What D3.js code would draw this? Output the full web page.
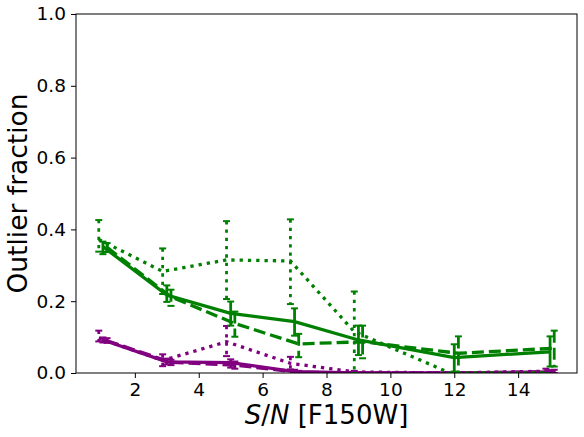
<!DOCTYPE html>
<meta charset="utf-8">
<style>
  body { margin: 0; background: #fff; }
  text { font-family: "DejaVu Sans", sans-serif; fill: #000; }
  .axis path, .axis line { stroke: #000; stroke-width: 1; }
</style>
<svg width="584" height="437"></svg>
<script src="https://cdn.jsdelivr.net/npm/d3@7"></script>
<script>
  // S/N bins, each series is shifted a bit sideways
  var snr = [1, 3, 5, 7, 9, 12, 15];

  var greenSolid = [0.352, 0.217, 0.166, 0.143, 0.092, 0.043, 0.059];
  var greenSolidLo = [0.331, 0.198, 0.132, 0.104, 0.050, 0.004, 0.018];
  var greenSolidHi = [0.366, 0.244, 0.199, 0.180, 0.132, 0.080, 0.102];

  var greenDashed = [0.350, 0.212, 0.138, 0.081, 0.087, 0.055, 0.069];
  var greenDashedLo = [0.337, 0.187, 0.101, 0.044, 0.041, 0.001, 0.018];
  var greenDashedHi = [0.362, 0.232, 0.171, 0.109, 0.132, 0.102, 0.118];

  var greenDotted = [0.372, 0.283, 0.315, 0.312, 0.115, 0.000, 0.000];
  var greenDottedLo = [0.338, 0.220, 0.206, 0.192, 0.000, 0.000, 0.000];
  var greenDottedHi = [0.426, 0.347, 0.423, 0.428, 0.227, 0.000, 0.000];

  var purpleSolid = [0.092, 0.031, 0.029, 0.004, 0.000, 0.000, 0.003];
  var purpleSolidLo = [0.085, 0.024, 0.015, 0.000, 0.000, 0.000, 0.000];
  var purpleSolidHi = [0.099, 0.040, 0.038, 0.009, 0.000, 0.000, 0.008];

  var purpleDashed = [0.090, 0.030, 0.022, 0.002, 0.000, 0.000, 0.004];
  var purpleDashedLo = [0.084, 0.022, 0.012, 0.000, 0.000, 0.000, 0.000];
  var purpleDashedHi = [0.097, 0.037, 0.032, 0.006, 0.000, 0.000, 0.009];

  var purpleDotted = [0.097, 0.035, 0.087, 0.027, 0.003, 0.000, 0.005];
  var purpleDottedLo = [0.088, 0.019, 0.047, 0.010, 0.000, 0.000, 0.000];
  var purpleDottedHi = [0.118, 0.052, 0.131, 0.045, 0.006, 0.000, 0.012];

  var xTicks = [2, 4, 6, 8, 10, 12, 14];
  var yTicks = [0, 0.2, 0.4, 0.6, 0.8, 1.0];

  var svg = d3.select("svg"),
    pl = 76, pr = 577, pt = 14, pb = 373;

  var x = d3.scaleLinear().domain([0.157, 15.843]).range([pl, pr]);
  var y = d3.scaleLinear().domain([0, 1]).range([pb, pt]);

  svg.append("defs").append("clipPath").attr("id", "clip")
    .append("rect").attr("x", pl).attr("y", pt)
    .attr("width", pr - pl).attr("height", pb - pt);

  var series = [
    { v: purpleDotted, lo: purpleDottedLo, hi: purpleDottedHi, c: "purple", dash: "3.3,5", dx: -0.13 },
    { v: purpleSolid, lo: purpleSolidLo, hi: purpleSolidHi, c: "purple", dash: null, dx: 0 },
    { v: purpleDashed, lo: purpleDashedLo, hi: purpleDashedHi, c: "purple", dash: "12,5", dx: 0.13 },
    { v: greenDotted, lo: greenDottedLo, hi: greenDottedHi, c: "green", dash: "3.3,5", dx: -0.13 },
    { v: greenSolid, lo: greenSolidLo, hi: greenSolidHi, c: "green", dash: null, dx: 0 },
    { v: greenDashed, lo: greenDashedLo, hi: greenDashedHi, c: "green", dash: "12,5", dx: 0.13 }
  ];

  var plot = svg.append("g").attr("clip-path", "url(#clip)");

  var line = d3.line()
    .x(function (d) { return x(d.x); })
    .y(function (d) { return y(d.y); });

  series.forEach(function (s) {
    var pts = snr.map(function (n, i) {
      return { x: n + s.dx, y: s.v[i], lo: s.lo[i], hi: s.hi[i] };
    });
    var g = plot.append("g");

    g.append("path")
      .datum(pts)
      .attr("d", line)
      .attr("fill", "none")
      .attr("stroke", s.c)
      .attr("stroke-width", 3.3)
      .attr("stroke-dasharray", s.dash);

    // error bars
    g.selectAll(".err").data(pts).enter().append("line")
      .attr("x1", function (d) { return x(d.x); })
      .attr("x2", function (d) { return x(d.x); })
      .attr("y1", function (d) { return y(d.hi); })
      .attr("y2", function (d) { return y(d.lo); })
      .attr("stroke", s.c)
      .attr("stroke-width", 2.8)
      .attr("stroke-dasharray", s.dash);

    ["lo", "hi"].forEach(function (k) {
      g.selectAll(".cap" + k).data(pts).enter().append("line")
        .attr("x1", function (d) { return x(d.x) - 3.5; })
        .attr("x2", function (d) { return x(d.x) + 3.5; })
        .attr("y1", function (d) { return y(d[k]); })
        .attr("y2", function (d) { return y(d[k]); })
        .attr("stroke", s.c)
        .attr("stroke-width", 2);
    });
  });

  // axes
  svg.append("g").attr("class", "axis")
    .attr("transform", "translate(0," + pb + ")")
    .call(d3.axisBottom(x).tickValues(xTicks).tickSize(5).tickPadding(5).tickFormat(d3.format("d")))
    .attr("font-family", "DejaVu Sans").attr("font-size", 18.5)
    .call(function (a) { a.select(".domain").remove(); });

  svg.append("g").attr("class", "axis")
    .attr("transform", "translate(" + pl + ",0)")
    .call(d3.axisLeft(y).tickValues(yTicks).tickSize(5).tickPadding(5).tickFormat(d3.format(".1f")))
    .attr("font-family", "DejaVu Sans").attr("font-size", 18.5)
    .call(function (a) { a.select(".domain").remove(); });

  svg.append("rect")
    .attr("x", pl).attr("y", pt)
    .attr("width", pr - pl).attr("height", pb - pt)
    .attr("fill", "none").attr("stroke", "#000").attr("stroke-width", 1);

  // labels
  var xl = svg.append("text")
    .attr("x", (pl + pr) / 2)
    .attr("y", 424)
    .attr("text-anchor", "middle")
    .attr("font-size", 26);
  xl.append("tspan").attr("font-style", "italic").text("S");
  xl.append("tspan").text("/");
  xl.append("tspan").attr("font-style", "italic").text("N");
  xl.append("tspan").text(" [F150W]");

  svg.append("text")
    .attr("transform", "translate(27," + (pt + pb) / 2 + ") rotate(-90)")
    .attr("text-anchor", "middle")
    .attr("font-size", 26.5)
    .text("Outlier fraction");
</script>
